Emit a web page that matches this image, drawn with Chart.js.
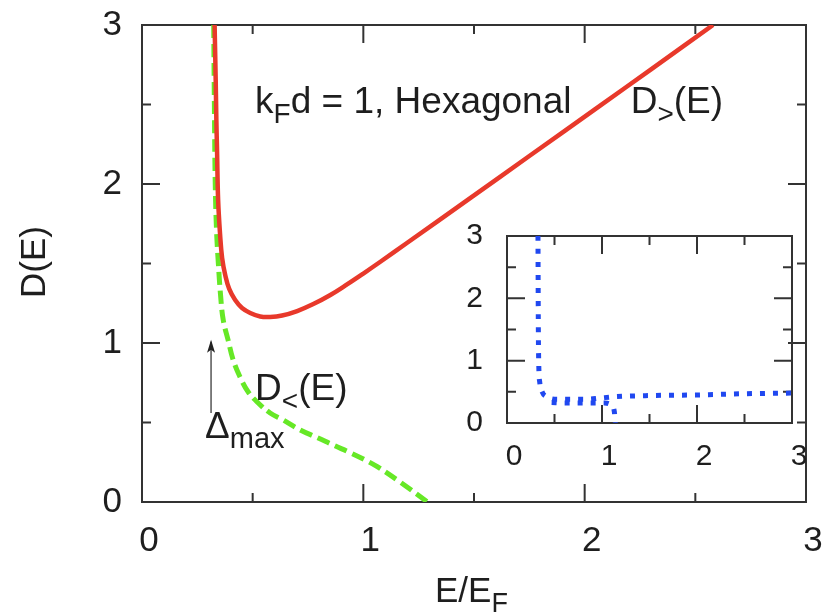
<!DOCTYPE html>
<html>
<head>
<meta charset="utf-8">
<script src="https://cdn.jsdelivr.net/npm/chart.js@4/dist/chart.umd.min.js"></script>
<style>
  html, body { margin: 0; padding: 0; background: #fff; }
  #wrap { position: relative; width: 827px; height: 614px; }
  #main-box { position: absolute; left: 0; top: 0; width: 827px; height: 614px; }
  #inset-box { position: absolute; left: 440px; top: 216px; width: 380px; height: 260px; }
</style>
</head>
<body>
<div id="wrap">
  <div id="main-box"><canvas id="main-chart"></canvas></div>
  <div id="inset-box"><canvas id="inset-chart"></canvas></div>
</div>
<script>
// tick values (same for both panels)
var majorTicks = [0, 1, 2, 3];
var minorTicks = [0.5, 1.5, 2.5];

// D>(E), red solid
var redE = [0.328, 0.333, 0.336, 0.339, 0.344, 0.353, 0.362, 0.376, 0.394, 0.421, 0.452, 0.489, 0.534, 0.579, 0.633, 0.701, 0.774, 0.851, 0.928, 1.0, 1.077, 1.2, 1.47, 1.75, 2.07, 2.3, 2.58];
var redD = [3.0, 2.654, 2.40, 2.214, 1.899, 1.679, 1.535, 1.428, 1.340, 1.270, 1.220, 1.189, 1.167, 1.164, 1.173, 1.201, 1.245, 1.302, 1.37, 1.437, 1.511, 1.632, 1.899, 2.176, 2.493, 2.721, 3.0];

// D<(E), green dashed
var greenE = [0.324, 0.327, 0.331, 0.337, 0.345, 0.355, 0.367, 0.389, 0.412, 0.443, 0.48, 0.525, 0.579, 0.638, 0.715, 0.792, 0.864, 0.941, 1.0, 1.063, 1.167, 1.29];
var greenD = [3.0, 2.5, 2.0, 1.7, 1.5, 1.3, 1.145, 1.019, 0.893, 0.786, 0.692, 0.623, 0.56, 0.516, 0.453, 0.405, 0.358, 0.31, 0.27, 0.222, 0.125, 0.0];

// inset, blue dotted (two branches)
var blueUpE = [0.326, 0.33, 0.335, 0.345, 0.37, 0.42, 0.54, 0.68, 0.84, 0.98, 1.12, 1.5, 2.0, 2.5, 3.0];
var blueUpD = [3.0, 1.5, 0.9, 0.65, 0.5, 0.42, 0.38, 0.38, 0.38, 0.40, 0.42, 0.44, 0.45, 0.47, 0.48];
var blueLoE = [0.47, 0.61, 0.75, 0.89, 1.03, 1.10, 1.13, 1.14];
var blueLoD = [0.33, 0.32, 0.32, 0.32, 0.32, 0.28, 0.18, 0.0];

var FONT = "'Liberation Sans', Arial, sans-serif";
var TXT = "#1e1e1e";

function toPts(xs, ys) {
  return xs.map(function (x, i) { return { x: x, y: ys[i] }; });
}

// box around the plot with inward ticks on all four sides
var framePlugin = {
  id: "frame",
  beforeDatasetsDraw: function (chart) {
    var ctx = chart.ctx, a = chart.chartArea;
    var xs = chart.scales.x, ys = chart.scales.y;
    ctx.save();
    ctx.strokeStyle = "#333";
    ctx.lineWidth = 2;
    ctx.strokeRect(a.left, a.top, a.right - a.left, a.bottom - a.top);
    ctx.beginPath();
    function ticks(list, len) {
      list.forEach(function (v) {
        var px = xs.getPixelForValue(v);
        ctx.moveTo(px, a.bottom); ctx.lineTo(px, a.bottom - len);
        ctx.moveTo(px, a.top); ctx.lineTo(px, a.top + len);
        var py = ys.getPixelForValue(v);
        ctx.moveTo(a.left, py); ctx.lineTo(a.left + len, py);
        ctx.moveTo(a.right, py); ctx.lineTo(a.right - len, py);
      });
    }
    ticks(majorTicks, 18);
    ticks(minorTicks, 9);
    ctx.stroke();
    ctx.restore();
  }
};

// text with subscripts: parts = [[text, isSub], ...]
function subText(ctx, x, y, parts, size, subSize) {
  parts.forEach(function (p) {
    ctx.font = (p[1] ? subSize : size) + "px " + FONT;
    ctx.fillText(p[0], x, p[1] ? y + 10 : y);
    x += ctx.measureText(p[0]).width;
  });
}

var labelPlugin = {
  id: "labels",
  afterDraw: function (chart) {
    var ctx = chart.ctx, xs = chart.scales.x, ys = chart.scales.y;
    ctx.save();
    ctx.fillStyle = TXT;
    ctx.textBaseline = "alphabetic";
    ctx.textAlign = "left";
    subText(ctx, xs.getPixelForValue(0.511), ys.getPixelForValue(2.447),
      [["k", 0], ["F", 1], ["d = 1, Hexagonal", 0]], 37, 28);
    subText(ctx, xs.getPixelForValue(2.208), ys.getPixelForValue(2.447),
      [["D", 0], [">", 1], ["(E)", 0]], 37, 28);
    subText(ctx, xs.getPixelForValue(0.511), ys.getPixelForValue(0.642),
      [["D", 0], ["<", 1], ["(E)", 0]], 37, 28);
    subText(ctx, xs.getPixelForValue(0.285), ys.getPixelForValue(0.403),
      [["\u0394", 0], ["max", 1]], 37, 29);

    // arrow
    var ax = xs.getPixelForValue(0.312);
    var y0 = ys.getPixelForValue(0.56), y1 = ys.getPixelForValue(1.02);
    ctx.strokeStyle = "#555";
    ctx.lineWidth = 1.5;
    ctx.beginPath();
    ctx.moveTo(ax, y0); ctx.lineTo(ax, y1 + 2);
    ctx.stroke();
    ctx.fillStyle = "#222";
    ctx.beginPath();
    ctx.moveTo(ax, y1); ctx.lineTo(ax - 4, y1 + 13); ctx.lineTo(ax, y1 + 10); ctx.lineTo(ax + 4, y1 + 13);
    ctx.closePath();
    ctx.fill();

    // axis titles
    ctx.fillStyle = TXT;
    subText(ctx, 435, 602, [["E/E", 0], ["F", 1]], 35, 27);
    ctx.translate(45, 262);
    ctx.rotate(-Math.PI / 2);
    ctx.font = "35px " + FONT;
    ctx.textAlign = "center";
    ctx.fillText("D(E)", 0, 0);
    ctx.restore();
  }
};

function axis(size, pad, offset, fit) {
  return {
    type: "linear",
    min: 0,
    max: 3,
    afterFit: function (s) {
      fit(s);
      s.paddingTop = 0; s.paddingBottom = 0; s.paddingLeft = 0; s.paddingRight = 0;
    },
    grid: { display: false, drawTicks: false },
    border: { display: false },
    ticks: { stepSize: 1, color: TXT, padding: pad, labelOffset: offset, maxRotation: 0,
      font: { family: FONT, size: size } }
  };
}

new Chart(document.getElementById("main-chart"), {
  type: "line",
  data: {
    datasets: [
      {
        label: "D>(E)",
        data: toPts(redE, redD),
        borderColor: "#e8392b",
        borderWidth: 4.5,
        pointRadius: 0,
        tension: 0.4
      },
      {
        label: "D<(E)",
        data: toPts(greenE, greenD),
        borderColor: "#66e826",
        borderWidth: 5,
        borderDash: [13, 6],
        pointRadius: 0,
        tension: 0.4
      }
    ]
  },
  options: {
    responsive: true,
    maintainAspectRatio: false,
    animation: false,
    layout: { padding: { top: 25, right: 21, left: 0, bottom: 0 } },
    plugins: { legend: { display: false }, tooltip: { enabled: false } },
    scales: {
      x: axis(35, 18, 7, function (s) { s.height = 112; }),
      y: axis(35, 20, 0, function (s) { s.width = 142; })
    }
  },
  plugins: [framePlugin, labelPlugin]
});

new Chart(document.getElementById("inset-chart"), {
  type: "line",
  data: {
    datasets: [
      {
        label: "inset",
        data: toPts(blueUpE, blueUpD),
        borderColor: "#2048f0",
        borderWidth: 5,
        borderDash: [5, 8],
        pointRadius: 0,
        cubicInterpolationMode: "monotone"
      },
      {
        label: "inset branch",
        data: toPts(blueLoE, blueLoD),
        borderColor: "#2048f0",
        borderWidth: 5,
        borderDash: [5, 8],
        pointRadius: 0,
        cubicInterpolationMode: "monotone"
      }
    ]
  },
  options: {
    responsive: true,
    maintainAspectRatio: false,
    animation: false,
    layout: { padding: { top: 20, right: 28, left: 0, bottom: 0 } },
    plugins: { legend: { display: false }, tooltip: { enabled: false } },
    scales: {
      x: axis(30, 16, 7, function (s) { s.height = 53; }),
      y: axis(30, 24, 0, function (s) { s.width = 67; })
    }
  },
  plugins: [framePlugin]
});
</script>
</body>
</html>
